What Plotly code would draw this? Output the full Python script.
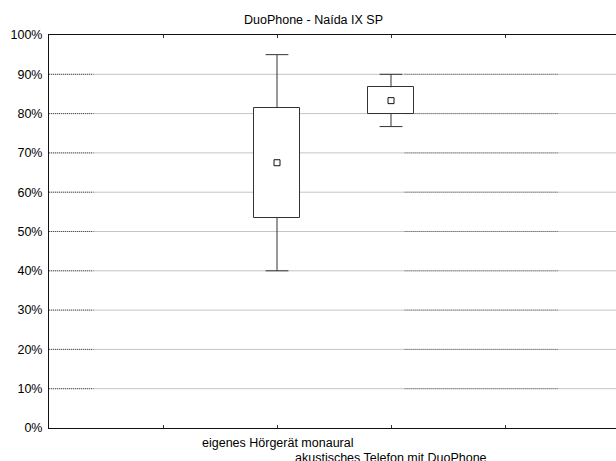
import plotly.graph_objects as go

# ---- data ----
categories = ["eigenes Hörgerät monaural", "akustisches Telefon mit DuoPhone"]
mean_vals = [67.5, 83.3]
box_low = [53.5, 80.0]
box_high = [81.5, 86.7]
whisker_low = [40.0, 76.7]
whisker_high = [95.0, 90.0]
y_ticks = [0, 10, 20, 30, 40, 50, 60, 70, 80, 90, 100]
subtitle = "DuoPhone - Naída IX SP"

# category positions on a numeric x axis (ticks at 1..4)
positions = [i + 2 for i in range(len(categories))]

FONT = "Liberation Sans, Arial, sans-serif"
FS = 12.5
LINE = "#333333"
BOX_W = 0.4
CAP = 0.1

W, H = 616, 461
L, T, B = 49, 35, 33

fig = go.Figure()

# boxes (mean +/- spread) as floating bars
fig.add_trace(go.Bar(
    x=positions,
    y=[h - l for h, l in zip(box_high, box_low)],
    base=box_low,
    width=BOX_W,
    marker=dict(color="white", line=dict(color=LINE, width=1)),
    showlegend=False, hoverinfo="skip",
))

# whiskers with caps
for i, p in enumerate(positions):
    xs = [p, p, None, p - CAP, p + CAP, None, p, p, None, p - CAP, p + CAP]
    ys = [box_high[i], whisker_high[i], None, whisker_high[i], whisker_high[i], None,
          box_low[i], whisker_low[i], None, whisker_low[i], whisker_low[i]]
    fig.add_trace(go.Scatter(x=xs, y=ys, mode="lines",
                             line=dict(color=LINE, width=1),
                             showlegend=False, hoverinfo="skip"))

# mean markers
fig.add_trace(go.Scatter(
    x=positions, y=mean_vals, mode="markers",
    marker=dict(symbol="square", size=6, color="white",
                line=dict(color="#111111", width=1)),
    showlegend=False, hoverinfo="skip",
))

x_end = (W - L) / 114.0

# gridlines: solid light grey with darker dotted segments
for v in y_ticks[1:-1]:
    fig.add_shape(type="line", xref="x", yref="y", x0=0, x1=x_end, y0=v, y1=v,
                  line=dict(color="#c4c4c4", width=1), layer="below")
    fig.add_shape(type="line", xref="x", yref="y", x0=0, x1=0.39, y0=v, y1=v,
                  line=dict(color="#555555", width=1, dash="1px,1px"), layer="below")
    fig.add_shape(type="line", xref="x", yref="y", x0=3.12, x1=4.47, y0=v, y1=v,
                  line=dict(color="#666666", width=1, dash="1px,1px"), layer="below")

fig.add_annotation(text=subtitle, xref="paper", yref="paper", x=(313 - L) / (W - L),
                   y=1, yshift=15, showarrow=False, xanchor="center", yanchor="middle",
                   font=dict(family=FONT, size=FS, color="black"))

# staggered category labels
label_shift = [-15, -29.7]
for i, cat in enumerate(categories):
    fig.add_annotation(text=cat, xref="x", yref="paper", x=positions[i], y=0,
                       yshift=label_shift[i], showarrow=False,
                       xanchor="center", yanchor="middle",
                       font=dict(family=FONT, size=FS, color="black"))

fig.update_layout(
    width=W, height=H,
    margin=dict(l=L, r=0, t=T, b=B, pad=0),
    paper_bgcolor="white", plot_bgcolor="white",
    font=dict(family=FONT, size=FS, color="black"),
    bargap=0,
    xaxis=dict(
        range=[0, x_end],
        tickmode="array",
        tickvals=[1, 2, 3, 4],
        ticktext=["", "", "", ""],
        automargin=False,
        ticks="inside", ticklen=3, tickcolor=LINE,
        showline=True, linecolor="#111111", linewidth=1, mirror="ticks",
        showgrid=False, zeroline=False,
    ),
    yaxis=dict(
        range=[0, 100], automargin=False, ticklabelstandoff=3,
        tickmode="array", tickvals=y_ticks,
        ticktext=[f"{v}%" for v in y_ticks],
        ticks="", showline=True, linecolor="#111111", linewidth=1, mirror=False,
        showgrid=False, zeroline=False,
        tickfont=dict(family=FONT, size=FS, color="black"),
    ),
)

fig.write_html(
    "out.html",
    config={"displayModeBar": False},
    post_script="document.body.style.margin='0';document.body.style.overflow='hidden';",
)
